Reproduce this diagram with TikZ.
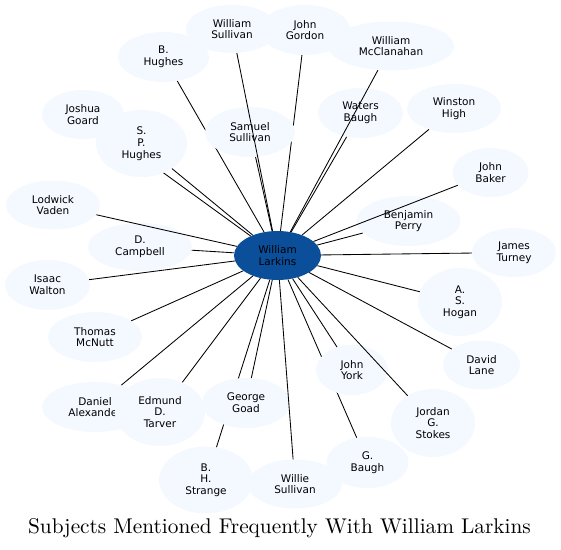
\documentclass[tikz,border=0pt]{standalone}
\usepackage{fontspec}
\newfontfamily\subjfont{DejaVu Sans}
\newfontfamily\titlefont{lmroman10-regular.otf}
\definecolor{larkinsblue}{RGB}{11,79,155}
\definecolor{subjfill}{RGB}{244,248,255}
\usetikzlibrary{shapes.geometric}

\begin{document}
\begin{tikzpicture}[x=1pt, y=-1pt,
  subj/.style={ellipse, fill=subjfill, inner sep=0pt, align=center,
               font=\subjfont\fontsize{10.5}{11.7}\selectfont},
  sz/.style 2 args={minimum width=#1pt, minimum height=#2pt},
  hub/.style={subj, fill=larkinsblue, text=black},
  link/.style={draw=black, line width=0.85pt}
]
\useasboundingbox (0,0) rectangle (561,549);

% centre
\node[hub, sz={87}{49}] (larkins) at (277.5,255.5) {William\\Larkins};

% upper side
\node[subj, sz={91}{50}] (bhughes) at (163.5,57) {B.\\Hughes};
\draw[link] (larkins) -- (bhughes);
\node[subj, sz={90}{50}] (jgordon) at (305,30) {John\\Gordon};
\draw[link] (larkins) -- (jgordon);
\node[subj, sz={90}{50}] (ssullivan) at (250,132) {Samuel\\Sullivan};
\draw[link] (larkins) -- (ssullivan);
\node[subj, sz={92}{48}] (wsullivan) at (232,29) {William\\Sullivan};
\draw[link] (larkins) -- (wsullivan);
\node[subj, sz={85}{50}] (wbaugh) at (360.5,113) {Waters\\Baugh};
\draw[link] (larkins) -- (wbaugh);
\node[subj, sz={126}{49}] (mcclanahan) at (391,46) {William\\McClanahan};
\draw[link] (larkins) -- (mcclanahan);
\node[subj, sz={94}{49}] (whigh) at (454,108.5) {Winston\\High};
\draw[link] (larkins) -- (whigh);

% right side
\node[subj, sz={104}{50}] (bperry) at (408.5,221) {Benjamin\\Perry};
\draw[link] (larkins) -- (bperry);
\node[subj, sz={76}{49}] (jbaker) at (490.5,172.5) {John\\Baker};
\draw[link] (larkins) -- (jbaker);
\node[subj, sz={84}{49}] (jturney) at (514,252.5) {James\\Turney};
\draw[link] (larkins) -- (jturney);
\node[subj, sz={84}{68}] (ashogan) at (460,302) {A.\\S.\\Hogan};
\draw[link] (larkins) -- (ashogan);
\node[subj, sz={77}{49}] (dlane) at (481.5,365) {David\\Lane};
\draw[link] (larkins) -- (dlane);

% lower side
\node[subj, sz={82}{51}] (gbaugh) at (367.5,462.5) {G.\\Baugh};
\draw[link] (larkins) -- (gbaugh);
\node[subj, sz={72}{50}] (jyork) at (352,370) {John\\York};
\draw[link] (larkins) -- (jyork);
\node[subj, sz={84}{68}] (jstokes) at (433,423) {Jordan\\G.\\Stokes};
\draw[link] (larkins) -- (jstokes);
\node[subj, sz={94}{67}] (bhstrange) at (206,480) {B.\\H.\\Strange};
\draw[link] (larkins) -- (bhstrange);
\node[subj, sz={88}{50}] (ggoad) at (246,403) {George\\Goad};
\draw[link] (larkins) -- (ggoad);
\node[subj, sz={94}{49}] (wisullivan) at (295,484) {Willie\\Sullivan};
\draw[link] (larkins) -- (wisullivan);
\node[subj, sz={106}{50}] (dalexander) at (95,407) {Daniel\\Alexander};
\draw[link] (larkins) -- (dalexander);
\node[subj, sz={90}{68}] (edtarver) at (160,412) {Edmund\\D.\\Tarver};
\draw[link] (larkins) -- (edtarver);

% left side
\node[subj, sz={94}{50}] (tmcnutt) at (95,337) {Thomas\\McNutt};
\draw[link] (larkins) -- (tmcnutt);
\node[subj, sz={104}{48}] (dcampbell) at (140,247) {D.\\Campbell};
\draw[link] (larkins) -- (dcampbell);
\node[subj, sz={94}{49}] (lvaden) at (53,205) {Lodwick\\Vaden};
\draw[link] (larkins) -- (lvaden);
\node[subj, sz={85}{50}] (iwalton) at (47.5,285) {Isaac\\Walton};
\draw[link] (larkins) -- (iwalton);
\node[subj, sz={82}{49}] (jgoard) at (83,114.5) {Joshua\\Goard};
\draw[link] (larkins) -- (jgoard);
\node[subj, sz={91}{67}] (sphughes) at (141.5,143.5) {S.\\P.\\Hughes};
\draw[link] (larkins) -- (sphughes);

\node[anchor=base, font=\titlefont\fontsize{21.3}{25}\selectfont] (title) at (279.5,533)
  {Subjects Mentioned Frequently With William Larkins};
\end{tikzpicture}
\end{document}
